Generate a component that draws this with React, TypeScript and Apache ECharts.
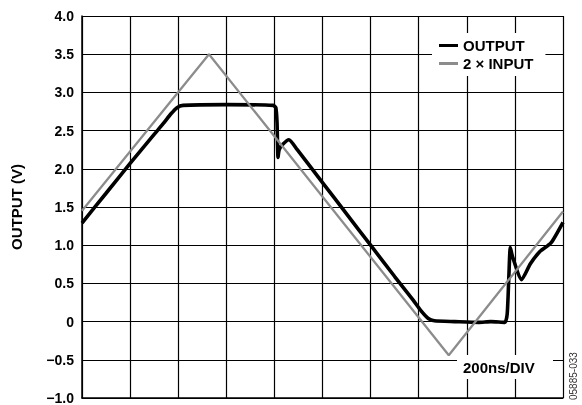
import React, { useEffect, useRef } from "react";
import * as echarts from "echarts";

const yTicks = [-1.0, -0.5, 0, 0.5, 1.0, 1.5, 2.0, 2.5, 3.0, 3.5, 4.0];
const inputTime = [0, 528, 1525, 2000];
const inputVolts = [1.45, 3.5, -0.44, 1.44];
const outputTime = [0, 100, 200, 300, 340, 370, 395, 420, 600, 795, 806, 811, 815, 820, 835, 860, 895, 1000, 1100, 1200, 1300, 1377, 1410, 1440, 1465, 1550, 1650, 1700, 1758, 1768, 1775, 1781, 1790, 1828, 1865, 1905, 1950, 2000];
const outputVolts = [1.29, 1.68, 2.07, 2.45, 2.6, 2.72, 2.8, 2.83, 2.84, 2.83, 2.8, 2.6, 2.15, 2.25, 2.32, 2.38, 2.25, 1.82, 1.41, 1.0, 0.59, 0.28, 0.14, 0.04, 0.01, 0.0, -0.01, 0.0, -0.01, 0.1, 0.6, 0.97, 0.85, 0.55, 0.76, 0.92, 1.03, 1.3];

const fmt = (v: number) => {
  if (Math.abs(v) < 1e-9) return "0";
  const s = Math.abs(v).toFixed(1);
  return v < 0 ? "\u2212" + s : s;
};

export default function App() {
  const ref = useRef<HTMLDivElement>(null);
  useEffect(() => {
    if (!ref.current) return;
    const chart = echarts.init(ref.current, undefined, { renderer: "svg" });
    const font = "Liberation Sans, Arial, sans-serif";
    chart.setOption({
      animation: false,
      textStyle: { fontFamily: font },
      grid: { left: 82, right: 19, top: 16, bottom: 7, containLabel: false },
      xAxis: {
        type: "value",
        min: 0,
        max: 2000,
        interval: 200,
        axisLabel: { show: false },
        axisTick: { show: false },
        axisLine: { show: true, onZero: false, lineStyle: { color: "#000", width: 1.5 } },
        splitLine: { show: true, lineStyle: { color: "#000", width: 1.2 } },
      },
      yAxis: {
        type: "value",
        min: yTicks[0],
        max: yTicks[yTicks.length - 1],
        interval: 0.5,
        name: "OUTPUT (V)",
        nameLocation: "middle",
        nameRotate: 90,
        nameGap: 58,
        nameTextStyle: { fontFamily: font, fontWeight: "bold", fontSize: 15, color: "#000" },
        axisLabel: {
          formatter: (v: number) => fmt(v),
          fontFamily: font,
          fontWeight: "bold",
          fontSize: 14,
          color: "#000",
          margin: 8,
        },
        axisTick: { show: false },
        axisLine: { show: true, lineStyle: { color: "#000", width: 1.5 } },
        splitLine: { show: true, lineStyle: { color: "#000", width: 1.2 } },
      },
      legend: {
        orient: "vertical",
        left: 432,
        top: 33,
        padding: [5, 12, 5, 7],
        itemGap: 3,
        itemWidth: 19,
        itemHeight: 3,
        backgroundColor: "#fff",
        textStyle: { fontFamily: font, fontWeight: "bold", fontSize: 15, color: "#000" },
        data: [
          { name: "OUTPUT", icon: "rect", itemStyle: { color: "#000" } },
          { name: "2 \u00d7 INPUT", icon: "rect", itemStyle: { color: "#8c8c8c" } },
        ],
      },
      graphic: [
        { type: "rect", left: 457, top: 355, shape: { width: 96, height: 24 }, style: { fill: "#fff" }, z: 100 },
        {
          type: "text",
          x: 463,
          y: 367,
          z: 101,
          style: { text: "200ns/DIV", fill: "#000", font: "bold 15px " + font, align: "left", verticalAlign: "middle" },
        },
        {
          type: "text",
          x: 578,
          y: 400,
          rotation: Math.PI / 2,
          z: 101,
          style: { text: "05885-033", fill: "#333", font: "10px " + font, align: "left", verticalAlign: "bottom" },
        },
      ],
      series: [
        {
          name: "2 \u00d7 INPUT",
          type: "line",
          showSymbol: false,
          symbol: "none",
          data: inputTime.map((t, i) => [t, inputVolts[i]]),
          lineStyle: { color: "#8c8c8c", width: 2.3 },
          itemStyle: { color: "#8c8c8c" },
          z: 3,
        },
        {
          name: "OUTPUT",
          type: "line",
          showSymbol: false,
          symbol: "none",
          smooth: 0.2,
          data: outputTime.map((t, i) => [t, outputVolts[i]]),
          lineStyle: { color: "#000", width: 3.6 },
          itemStyle: { color: "#000" },
          z: 2,
        },
      ],
    });
    return () => chart.dispose();
  }, []);
  return <div ref={ref} style={{ position: "fixed", left: 0, top: 0, width: 582, height: 405 }} />;
}
